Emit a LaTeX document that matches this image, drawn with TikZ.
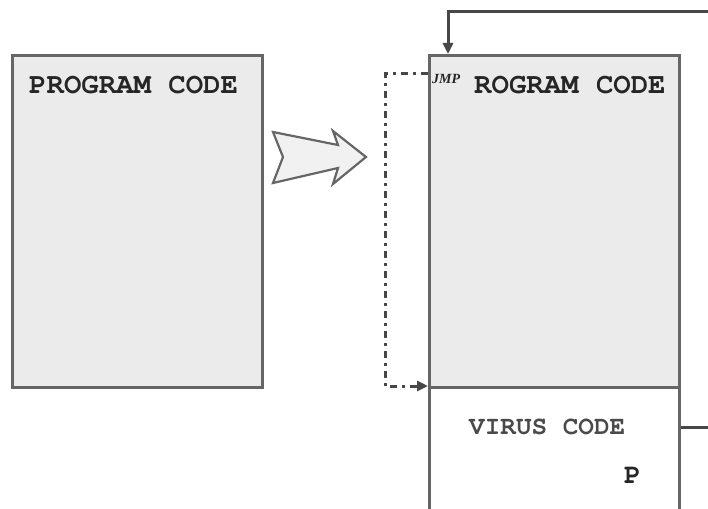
\documentclass[tikz,border=0pt]{standalone}
\usepackage{fontspec}
\setmonofont{TeX Gyre Cursor}
\newfontfamily\jmpfont{Liberation Serif}
\usetikzlibrary{arrows.meta}
\definecolor{edge}{HTML}{666666}
\definecolor{shade}{HTML}{EBEBEB}
\definecolor{ink}{HTML}{262626}
\definecolor{softink}{HTML}{4A4A4A}
\tikzset{
  codebox/.style={draw=edge, line width=2.6pt, fill=shade, anchor=north west,
    minimum width=250pt, minimum height=332pt, inner sep=0pt},
  virusbox/.style={draw=edge, line width=2.6pt, fill=white, anchor=north west,
    minimum width=250pt, minimum height=160pt, inner sep=0pt},
  label/.style={text=ink, inner sep=0pt, anchor=base west},
  loopline/.style={draw=ink!85, line width=3pt},
  jumpline/.style={draw=ink!85, line width=3pt,
    dash pattern=on 7pt off 5pt on 3pt off 5pt},
  tip/.style={-{Triangle[length=11pt,width=10pt]}},
  fatarrow/.style={draw=edge, line width=2.2pt, fill=shade!70, line join=miter}
}
\begin{document}
\begin{tikzpicture}[x=1pt,y=-1pt]
\path[use as bounding box] (0,0) rectangle (708,508);
\clip (0,0) rectangle (708,508);

% original program
\node[codebox] (orig) at (11,54) {};
\node[label, font=\ttfamily\bfseries\fontsize{29}{30}\selectfont] (origtext) at (29,94) {PROGRAM CODE};

% infection arrow
\path[fatarrow] (273,132) -- (338,145) -- (333,131) -- (366,157) -- (333,184)
  -- (338,168) -- (273,183) -- (283,157) -- cycle;

% infected program
\node[codebox] (host) at (428,54) {};
\node[virusbox] (virus) at (428,386) {};
\node[label, font=\jmpfont\bfseries\itshape\fontsize{14}{15}\selectfont] (jmp) at (432,84) {JMP};
\node[label, font=\ttfamily\bfseries\fontsize{29}{30}\selectfont] (hosttext) at (474,94) {ROGRAM CODE};
\node[label, font=\ttfamily\bfseries\fontsize{26}{27}\selectfont, text=softink] (virustext) at (469,434) {VIRUS CODE};
\node[label, font=\ttfamily\bfseries\fontsize{28}{28}\selectfont] (ptext) at (624,483) {P};

% jump from the start of the host to the virus body
\coordinate (jmpout) at ([yshift=-20pt]host.north west);
\draw[jumpline, tip] (jmpout) -- ++(-43,0) |- (virus.north west);

% return from the virus to the original program start
\coordinate (vout) at ([yshift=-41pt]virus.north east);
\coordinate (edgeR) at (708,427);
\draw[loopline] (vout) -- (edgeR);
\coordinate (topR) at (708,12);
\coordinate (entry) at ([xshift=20pt]host.north west);
\draw[loopline, tip] (topR) -| (entry);
\end{tikzpicture}
\end{document}
